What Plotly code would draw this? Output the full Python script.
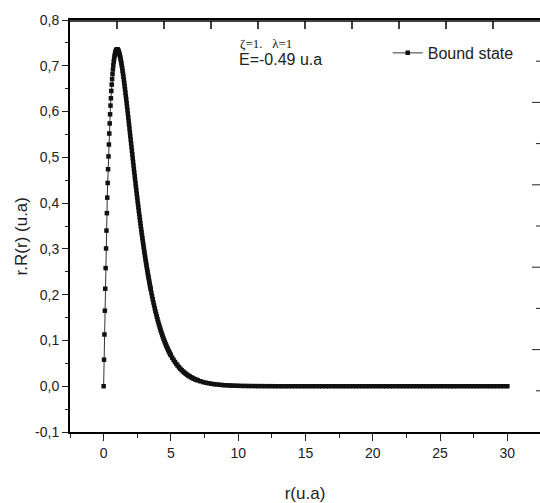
import plotly.graph_objects as go

# ---- data ----
r_rise = [0.00, 0.03, 0.06, 0.09, 0.12, 0.15, 0.18, 0.21, 0.24, 0.27,
          0.30, 0.33, 0.36, 0.39, 0.42, 0.45, 0.48, 0.51, 0.54, 0.57,
          0.60, 0.63, 0.66, 0.69, 0.72, 0.75, 0.78, 0.81, 0.84, 0.87,
          0.90, 0.93, 0.96, 0.99, 1.02, 1.05, 1.08, 1.11, 1.14, 1.17, 1.20]
y_rise = [0.000, 0.058, 0.113, 0.165, 0.213, 0.258, 0.301, 0.340, 0.378, 0.412,
          0.444, 0.474, 0.502, 0.528, 0.552, 0.574, 0.594, 0.613, 0.629, 0.645,
          0.659, 0.671, 0.682, 0.692, 0.701, 0.709, 0.715, 0.721, 0.725, 0.729,
          0.732, 0.734, 0.735, 0.736, 0.736, 0.735, 0.734, 0.732, 0.729, 0.726, 0.723]

r_fall = [1.23, 1.26, 1.29, 1.32, 1.35, 1.38, 1.41, 1.44, 1.47, 1.50,
          1.53, 1.56, 1.59, 1.62, 1.65, 1.68, 1.71, 1.74, 1.77, 1.80,
          1.83, 1.86, 1.89, 1.92, 1.95, 1.98, 2.01, 2.04, 2.07, 2.10,
          2.13, 2.16, 2.19, 2.22, 2.25, 2.28, 2.31, 2.34, 2.37, 2.40,
          2.43, 2.46, 2.49, 2.52, 2.55, 2.58, 2.61, 2.64, 2.67, 2.70,
          2.73, 2.76, 2.79, 2.82, 2.85, 2.88, 2.91, 2.94, 2.97, 3.00,
          3.03, 3.06, 3.09, 3.12, 3.15, 3.18, 3.21, 3.24, 3.27, 3.30,
          3.33, 3.36, 3.39, 3.42, 3.45, 3.48, 3.50]
y_fall = [0.7190, 0.7148, 0.7102, 0.7052, 0.7000, 0.6944, 0.6885, 0.6824, 0.6760, 0.6694,
          0.6626, 0.6556, 0.6485, 0.6412, 0.6338, 0.6262, 0.6186, 0.6108, 0.6030, 0.5951,
          0.5871, 0.5791, 0.5711, 0.5630, 0.5549, 0.5468, 0.5386, 0.5305, 0.5224, 0.5143,
          0.5063, 0.4982, 0.4902, 0.4822, 0.4743, 0.4664, 0.4586, 0.4508, 0.4431, 0.4355,
          0.4279, 0.4203, 0.4129, 0.4055, 0.3982, 0.3910, 0.3839, 0.3768, 0.3698, 0.3629,
          0.3561, 0.3494, 0.3427, 0.3362, 0.3297, 0.3233, 0.3171, 0.3109, 0.3047, 0.2987,
          0.2928, 0.2870, 0.2812, 0.2755, 0.2700, 0.2645, 0.2591, 0.2538, 0.2486, 0.2434,
          0.2384, 0.2334, 0.2286, 0.2238, 0.2191, 0.2144, 0.2114]

r_decay = [3.55, 3.60, 3.65, 3.70, 3.75, 3.80, 3.85, 3.90, 3.95, 4.00,
           4.05, 4.10, 4.15, 4.20, 4.25, 4.30, 4.35, 4.40, 4.45, 4.50,
           4.55, 4.60, 4.65, 4.70, 4.75, 4.80, 4.85, 4.90, 4.95, 5.00,
           5.1, 5.2, 5.3, 5.4, 5.5, 5.6, 5.7, 5.8, 5.9, 6.0,
           6.1, 6.2, 6.3, 6.4, 6.5, 6.6, 6.7, 6.8, 6.9, 7.0,
           7.2, 7.4, 7.6, 7.8, 8.0, 8.2, 8.4, 8.6, 8.8, 9.0,
           9.2, 9.4, 9.6, 9.8, 10.0]
y_decay = [0.2040, 0.1967, 0.1897, 0.1830, 0.1764, 0.1700, 0.1639, 0.1579, 0.1521, 0.1465,
           0.1411, 0.1359, 0.1308, 0.1260, 0.1212, 0.1167, 0.1123, 0.1080, 0.1039, 0.1000,
           0.0962, 0.0925, 0.0889, 0.0855, 0.0822, 0.0790, 0.0759, 0.0730, 0.0701, 0.0674,
           0.0622, 0.0574, 0.0529, 0.0488, 0.0450, 0.0414, 0.0381, 0.0351, 0.0323, 0.0298,
           0.0274, 0.0252, 0.0231, 0.0213, 0.0195, 0.0180, 0.0165, 0.0152, 0.0139, 0.0128,
           0.0108, 0.0090, 0.0076, 0.0064, 0.0054, 0.0045, 0.0038, 0.0032, 0.0027, 0.0022,
           0.0019, 0.0016, 0.0013, 0.0011, 0.0009]

r_tail = [10.25, 10.5, 10.75, 11.0, 11.25, 11.5, 11.75, 12.0, 12.25, 12.5,
          12.75, 13.0, 13.25, 13.5, 13.75, 14.0, 14.25, 14.5, 14.75, 15.0,
          15.25, 15.5, 15.75, 16.0, 16.25, 16.5, 16.75, 17.0, 17.25, 17.5,
          17.75, 18.0, 18.25, 18.5, 18.75, 19.0, 19.25, 19.5, 19.75, 20.0,
          20.25, 20.5, 20.75, 21.0, 21.25, 21.5, 21.75, 22.0, 22.25, 22.5,
          22.75, 23.0, 23.25, 23.5, 23.75, 24.0, 24.25, 24.5, 24.75, 25.0,
          25.25, 25.5, 25.75, 26.0, 26.25, 26.5, 26.75, 27.0, 27.25, 27.5,
          27.75, 28.0, 28.25, 28.5, 28.75, 29.0, 29.25, 29.5, 29.75, 30.0]
y_tail = [0.0007, 0.0006, 0.0005, 0.0004, 0.0003, 0.0002, 0.0002, 0.0001, 0.0001, 0.0001,
          0.0, 0.0, 0.0, 0.0, 0.0, 0.0, 0.0, 0.0, 0.0, 0.0,
          0.0, 0.0, 0.0, 0.0, 0.0, 0.0, 0.0, 0.0, 0.0, 0.0,
          0.0, 0.0, 0.0, 0.0, 0.0, 0.0, 0.0, 0.0, 0.0, 0.0,
          0.0, 0.0, 0.0, 0.0, 0.0, 0.0, 0.0, 0.0, 0.0, 0.0,
          0.0, 0.0, 0.0, 0.0, 0.0, 0.0, 0.0, 0.0, 0.0, 0.0,
          0.0, 0.0, 0.0, 0.0, 0.0, 0.0, 0.0, 0.0, 0.0, 0.0,
          0.0, 0.0, 0.0, 0.0, 0.0, 0.0, 0.0, 0.0, 0.0, 0.0]

r_vals = r_rise + r_fall + r_decay + r_tail
y_vals = y_rise + y_fall + y_decay + y_tail

y_tickvals = [-0.1, 0.0, 0.1, 0.2, 0.3, 0.4, 0.5, 0.6, 0.7, 0.8]
y_ticktext = ["-0,1", "0,0", "0,1", "0,2", "0,3", "0,4", "0,5", "0,6", "0,7", "0,8"]
x_tickvals = [0, 5, 10, 15, 20, 25, 30]

series_name = "Bound state"
x_title = "r(u.a)"
y_title = "r.R(r) (u.a)"
note1 = "\u03b6=1.\u00a0\u00a0\u00a0\u03bb=1"
note2 = "E=-0.49 u.a"

INK = "#222222"
SANS = "Liberation Sans, Arial, sans-serif"
SERIF = "Liberation Serif, Times New Roman, serif"

fig = go.Figure()
fig.add_trace(go.Scatter(
    x=r_vals, y=y_vals, name=series_name, mode="lines+markers",
    line=dict(color="#333333", width=1),
    marker=dict(symbol="square", size=4.5, color="#111111", line=dict(width=0)),
))

fig.update_layout(
    width=540, height=503,
    margin=dict(l=70, r=0, t=20, b=69),
    paper_bgcolor="white", plot_bgcolor="white",
    font=dict(family=SANS, color=INK, size=14),
    showlegend=True,
    legend=dict(x=0.676, y=0.92, xanchor="left", yanchor="middle",
                bgcolor="rgba(0,0,0,0)", borderwidth=0,
                font=dict(family=SANS, size=16, color=INK)),
    xaxis=dict(range=[-2.5, 32.426], tickvals=x_tickvals, ticks="outside", ticklen=7,
               tickcolor=INK, tickwidth=1, showline=True, linecolor="#000000", linewidth=2,
               mirror=True, showgrid=False, zeroline=False,
               minor=dict(tick0=0, dtick=2.5, ticks="outside", ticklen=4, tickcolor=INK, showgrid=False),
               tickfont=dict(size=14, color=INK),
               title=dict(text=x_title, font=dict(size=17, color=INK), standoff=30)),
    yaxis=dict(range=[-0.1, 0.8], tickvals=y_tickvals, ticktext=y_ticktext,
               ticks="outside", ticklen=6, tickcolor=INK, tickwidth=1,
               showline=True, linecolor="#000000", linewidth=2, mirror=False,
               showgrid=False, zeroline=False,
               minor=dict(tick0=0, dtick=0.05, ticks="outside", ticklen=3, tickcolor=INK, showgrid=False),
               tickfont=dict(size=14, color=INK)),
)

# y-axis title placed as rotated text (sits a little below the plot centre in the source)
fig.add_annotation(xref="paper", yref="paper", x=-0.104, y=0.475, xanchor="center", yanchor="middle",
                   text=y_title, textangle=-90, showarrow=False, font=dict(family=SANS, size=17, color=INK))

# top frame line (just inside the plot top) with its inner ticks; right-side inner ticks
fig.add_shape(type="line", xref="paper", yref="paper", x0=0, x1=1, y0=1 - 1 / 414, y1=1 - 1 / 414,
              line=dict(color="#000000", width=1.5), layer="above")
for k in range(1, 10):
    xp = 47 * k / 470
    fig.add_shape(type="line", xref="paper", yref="paper",
                  x0=xp, x1=xp, y0=1 - 1 / 414, y1=1 - 9 / 414,
                  line=dict(color="#000000", width=1.5), layer="above")
    tl = 8 if k % 2 == 0 else 4
    fig.add_shape(type="line", xref="paper", yref="paper",
                  x0=1 - tl / 470, x1=1, y0=k / 10, y1=k / 10, line=dict(color=INK, width=1), layer="above")

fig.add_annotation(xref="paper", yref="paper", x=0.358, y=0.942, xanchor="left", yanchor="middle",
                   text=note1, showarrow=False, font=dict(family=SERIF, size=13, color=INK))
fig.add_annotation(xref="paper", yref="paper", x=0.355, y=0.903, xanchor="left", yanchor="middle",
                   text=note2, showarrow=False, font=dict(family=SANS, size=16, color=INK))

fig.write_html("out.html")
